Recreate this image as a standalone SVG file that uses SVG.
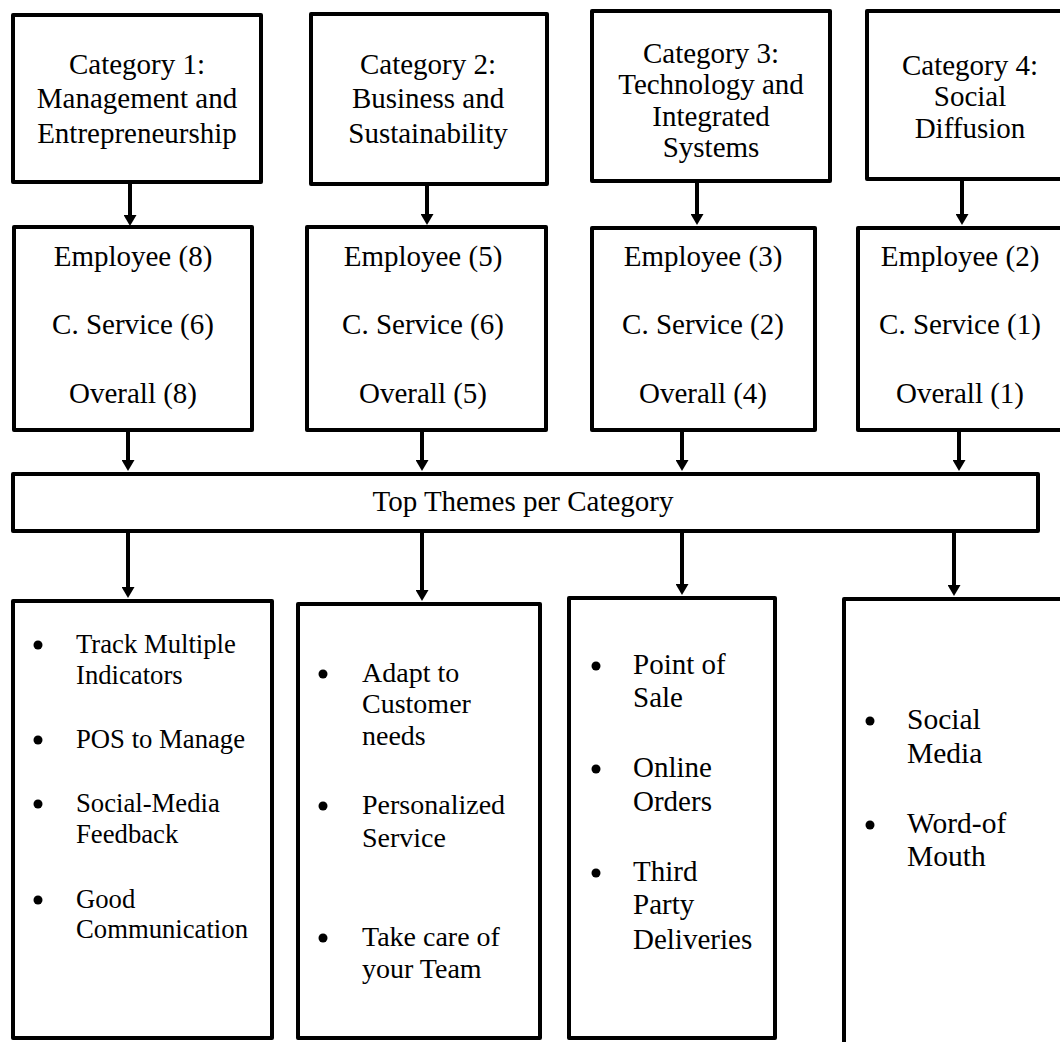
<svg xmlns="http://www.w3.org/2000/svg" width="1060" height="1042" viewBox="0 0 1060 1042">
<style>
.box{fill:#fff;stroke:#000;stroke-width:4;stroke-linejoin:round}
.t{font-family:"Liberation Serif","Times New Roman",serif;font-size:29px;fill:#000}
.c{text-anchor:middle}
.s1{font-size:26.7px}
.s2{font-size:28px}
.s4{font-size:29.5px}
.bul{fill:#000}
.conn line{stroke:#000;stroke-width:4}
</style>
<defs>
<marker id="ah" markerUnits="userSpaceOnUse" markerWidth="12" markerHeight="13" viewBox="0 0 11 13" refX="1" refY="6.5" orient="auto">
<path d="M0,0 L11,6.5 L0,13 z" fill="#000"/>
</marker>
</defs>
<rect width="1060" height="1042" fill="#fff"/>

<g id="cat1"><rect class="box" x="13" y="15" width="248" height="167"/>
<text class="t c"><tspan x="137" y="74">Category 1:</tspan><tspan x="137" y="108">Management and</tspan><tspan x="137" y="143">Entrepreneurship</tspan></text></g>
<g id="cat2"><rect class="box" x="311" y="14" width="236" height="170"/>
<text class="t c"><tspan x="428" y="74">Category 2:</tspan><tspan x="428" y="108">Business and</tspan><tspan x="428" y="143">Sustainability</tspan></text></g>
<g id="cat3"><rect class="box" x="592" y="11" width="238" height="170"/>
<text class="t c"><tspan x="711" y="63">Category 3:</tspan><tspan x="711" y="94">Technology and</tspan><tspan x="711" y="126">Integrated</tspan><tspan x="711" y="157">Systems</tspan></text></g>
<g id="cat4"><rect class="box" x="867" y="11" width="210" height="168"/>
<text class="t c"><tspan x="970" y="75">Category 4:</tspan><tspan x="970" y="106">Social</tspan><tspan x="970" y="138">Diffusion</tspan></text></g>

<g id="cnt1"><rect class="box" x="14" y="227" width="238" height="203"/>
<text class="t c"><tspan x="133" y="266">Employee (8)</tspan><tspan x="133" y="334">C. Service (6)</tspan><tspan x="133" y="403">Overall (8)</tspan></text></g>
<g id="cnt2"><rect class="box" x="307" y="227" width="239" height="203"/>
<text class="t c"><tspan x="423" y="266">Employee (5)</tspan><tspan x="423" y="334">C. Service (6)</tspan><tspan x="423" y="403">Overall (5)</tspan></text></g>
<g id="cnt3"><rect class="box" x="592" y="228" width="223" height="202"/>
<text class="t c"><tspan x="703" y="266">Employee (3)</tspan><tspan x="703" y="334">C. Service (2)</tspan><tspan x="703" y="403">Overall (4)</tspan></text></g>
<g id="cnt4"><rect class="box" x="858" y="228" width="220" height="202"/>
<text class="t c"><tspan x="960" y="266">Employee (2)</tspan><tspan x="960" y="334">C. Service (1)</tspan><tspan x="960" y="403">Overall (1)</tspan></text></g>

<g id="themes"><rect class="box" x="13" y="474" width="1025" height="57"/>
<text class="t c" x="523" y="511">Top Themes per Category</text></g>

<g id="list1"><rect class="box" x="13" y="601" width="259" height="437"/>
<circle class="bul" cx="38" cy="645" r="4.5"/><text class="t s1"><tspan x="76" y="653">Track Multiple</tspan><tspan x="76" y="684">Indicators</tspan></text>
<circle class="bul" cx="38" cy="740" r="4.5"/><text class="t s1" x="76" y="748">POS to Manage</text>
<circle class="bul" cx="38" cy="804" r="4.5"/><text class="t s1"><tspan x="76" y="812">Social-Media</tspan><tspan x="76" y="843">Feedback</tspan></text>
<circle class="bul" cx="38" cy="900" r="4.5"/><text class="t s1"><tspan x="76" y="908">Good</tspan><tspan x="76" y="938">Communication</tspan></text>
</g>
<g id="list2"><rect class="box" x="298" y="604" width="242" height="434"/>
<circle class="bul" cx="323" cy="674" r="4.5"/><text class="t s2"><tspan x="362" y="682">Adapt to</tspan><tspan x="362" y="713">Customer</tspan><tspan x="362" y="745">needs</tspan></text>
<circle class="bul" cx="323" cy="806" r="4.5"/><text class="t s2"><tspan x="362" y="814">Personalized</tspan><tspan x="362" y="847">Service</tspan></text>
<circle class="bul" cx="323" cy="938" r="4.5"/><text class="t s2"><tspan x="362" y="946">Take care of</tspan><tspan x="362" y="978">your Team</tspan></text>
</g>
<g id="list3"><rect class="box" x="569" y="598" width="206" height="440"/>
<circle class="bul" cx="596" cy="666" r="4.5"/><text class="t"><tspan x="633" y="674">Point of</tspan><tspan x="633" y="707">Sale</tspan></text>
<circle class="bul" cx="596" cy="769" r="4.5"/><text class="t"><tspan x="633" y="777">Online</tspan><tspan x="633" y="811">Orders</tspan></text>
<circle class="bul" cx="596" cy="873" r="4.5"/><text class="t"><tspan x="633" y="881">Third</tspan><tspan x="633" y="914">Party</tspan><tspan x="633" y="949">Deliveries</tspan></text>
</g>
<g id="list4"><rect class="box" x="844" y="599" width="230" height="460"/>
<circle class="bul" cx="870" cy="721" r="4.5"/><text class="t s4"><tspan x="907" y="729">Social</tspan><tspan x="907" y="763">Media</tspan></text>
<circle class="bul" cx="870" cy="825" r="4.5"/><text class="t s4"><tspan x="907" y="833">Word-of</tspan><tspan x="907" y="866">Mouth</tspan></text>
</g>

<g id="connectors" class="conn">
<line x1="130" y1="184" x2="130" y2="216" marker-end="url(#ah)"/>
<line x1="427" y1="186" x2="427" y2="215" marker-end="url(#ah)"/>
<line x1="697" y1="183" x2="697" y2="215" marker-end="url(#ah)"/>
<line x1="962" y1="181" x2="962" y2="215" marker-end="url(#ah)"/>
<line x1="128" y1="432" x2="128" y2="461" marker-end="url(#ah)"/>
<line x1="422" y1="432" x2="422" y2="461" marker-end="url(#ah)"/>
<line x1="682" y1="432" x2="682" y2="461" marker-end="url(#ah)"/>
<line x1="959" y1="432" x2="959" y2="461" marker-end="url(#ah)"/>
<line x1="128" y1="533" x2="128" y2="588" marker-end="url(#ah)"/>
<line x1="422" y1="533" x2="422" y2="591" marker-end="url(#ah)"/>
<line x1="682" y1="533" x2="682" y2="585" marker-end="url(#ah)"/>
<line x1="954" y1="533" x2="954" y2="586" marker-end="url(#ah)"/>
</g>
</svg>
